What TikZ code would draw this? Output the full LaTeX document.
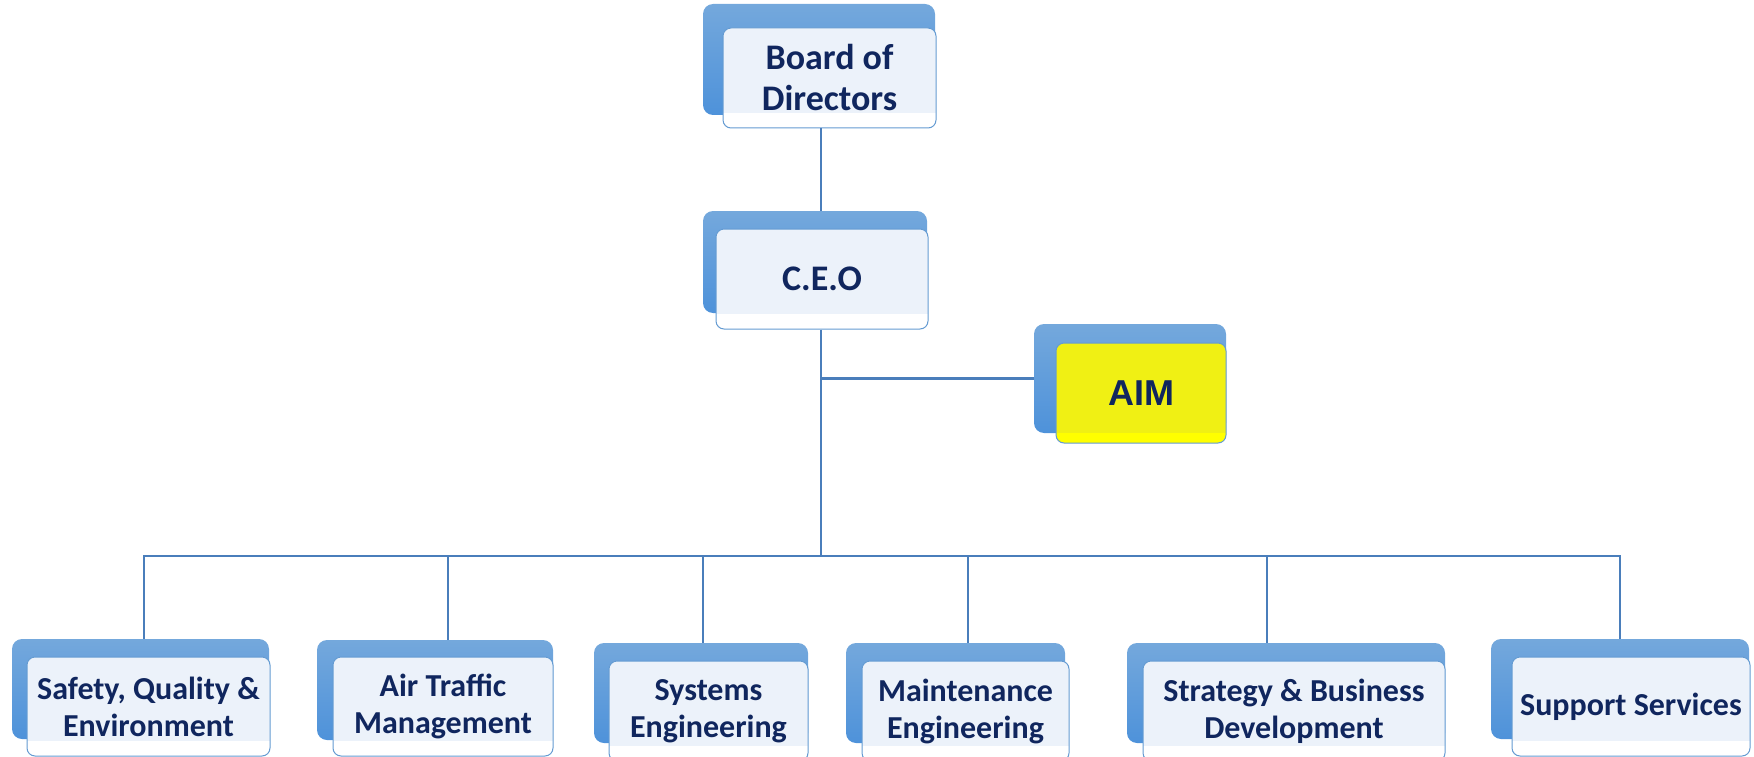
\documentclass[tikz,border=0pt]{standalone}
\usepackage{fontspec}
\setmainfont{Carlito}
\newfontfamily\aimfont{Liberation Sans}
\definecolor{linec}{RGB}{74,126,187}
\definecolor{backtop}{RGB}{116,168,220}
\definecolor{backbot}{RGB}{78,146,218}
\definecolor{frontedge}{RGB}{100,155,210}
\definecolor{frontfill}{RGB}{236,242,250}
\definecolor{txt}{RGB}{16,38,94}
\definecolor{aimfill}{RGB}{240,240,20}
\definecolor{aimband}{RGB}{255,255,0}
\tikzset{
  backbox/.style={rounded corners=10pt, top color=backtop, bottom color=backbot, draw=none, inner sep=0pt},
  frontbox/.style={rounded corners=8pt, draw=frontedge, line width=1pt, fill=white, inner sep=0pt,
    align=center, text=txt, font=\bfseries\fontsize{32}{37}\selectfont,
    path picture={\fill[frontfill, sharp corners] (path picture bounding box.north west) rectangle ([yshift=15pt]path picture bounding box.south east);}},
  aimbox/.style={frontbox, fill=aimband,
    path picture={\fill[aimfill, sharp corners] (path picture bounding box.north west) rectangle ([yshift=10pt]path picture bounding box.south east);}},
  conn/.style={draw=linec, line width=2.4pt}
}
\begin{document}
\begin{tikzpicture}[x=1pt, y=-1pt]
\useasboundingbox (0,0) rectangle (1754,757);
% back boxes
\node[backbox, minimum width=232pt, minimum height=111pt] (board-b) at (819,59.5) {};
\node[backbox, minimum width=224pt, minimum height=102pt] (ceo-b) at (815,262) {};
\node[backbox, minimum width=192pt, minimum height=109pt] (aim-b) at (1130,378.5) {};
\node[backbox, minimum width=257pt, minimum height=100pt] (sqe-b) at (140.5,689) {};
\node[backbox, minimum width=236pt, minimum height=100pt] (atm-b) at (435,690) {};
\node[backbox, minimum width=214pt, minimum height=100pt] (sys-b) at (701,693) {};
\node[backbox, minimum width=219pt, minimum height=100pt] (mnt-b) at (955.5,693) {};
\node[backbox, minimum width=318pt, minimum height=100pt] (sbd-b) at (1286,693) {};
\node[backbox, minimum width=258pt, minimum height=100pt] (sup-b) at (1620,689) {};
% front boxes
\node[frontbox, minimum width=213pt, minimum height=100pt, font=\bfseries\fontsize{36}{41}\selectfont] (board) at (829.5,78) {Board of\\Directors};
\node[frontbox, minimum width=212pt, minimum height=100pt, font=\bfseries\fontsize{36}{42}\selectfont] (ceo) at (822,279) {C.E.O};
\node[aimbox, minimum width=170pt, minimum height=100pt, font=\aimfont\bfseries\fontsize{36}{40}\selectfont] (aim) at (1141,393) {AIM};
\node[frontbox, minimum width=243pt, minimum height=99pt] (sqe) at (148.5,706.5) {Safety, Quality \&\\Environment};
\node[frontbox, minimum width=220pt, minimum height=99pt] (atm) at (443,706.5) {Air Traffic\\Management};
\node[frontbox, minimum width=199pt, minimum height=100pt] (sys) at (708.5,711) {Systems\\Engineering};
\node[frontbox, minimum width=207pt, minimum height=100pt] (mnt) at (965.5,711) {Maintenance\\Engineering};
\node[frontbox, minimum width=302pt, minimum height=100pt] (sbd) at (1294,711) {Strategy \& Business\\Development};
\node[frontbox, minimum width=238pt, minimum height=99pt] (sup) at (1631,706.5) {Support Services};
% connector coordinates
\coordinate (trunk) at (821,556);
\coordinate (d1) at (144,556);
\coordinate (d2) at (448,556);
\coordinate (d3) at (703,556);
\coordinate (d4) at (968,556);
\coordinate (d5) at (1267,556);
\coordinate (d6) at (1620,556);
% connectors
\draw[conn] (board.south -| trunk) -- (ceo-b.north -| trunk);
\draw[conn] (ceo.south -| trunk) -- (trunk);
\draw[conn] (aim-b.west -| trunk) -- (aim-b.west);
\draw[conn] (sqe-b.north -| d1) -- (d1) -- (d6) -- (sup-b.north -| d6);
\draw[conn] (d2) -- (atm-b.north -| d2);
\draw[conn] (d3) -- (sys-b.north -| d3);
\draw[conn] (d4) -- (mnt-b.north -| d4);
\draw[conn] (d5) -- (sbd-b.north -| d5);
\end{tikzpicture}
\end{document}
